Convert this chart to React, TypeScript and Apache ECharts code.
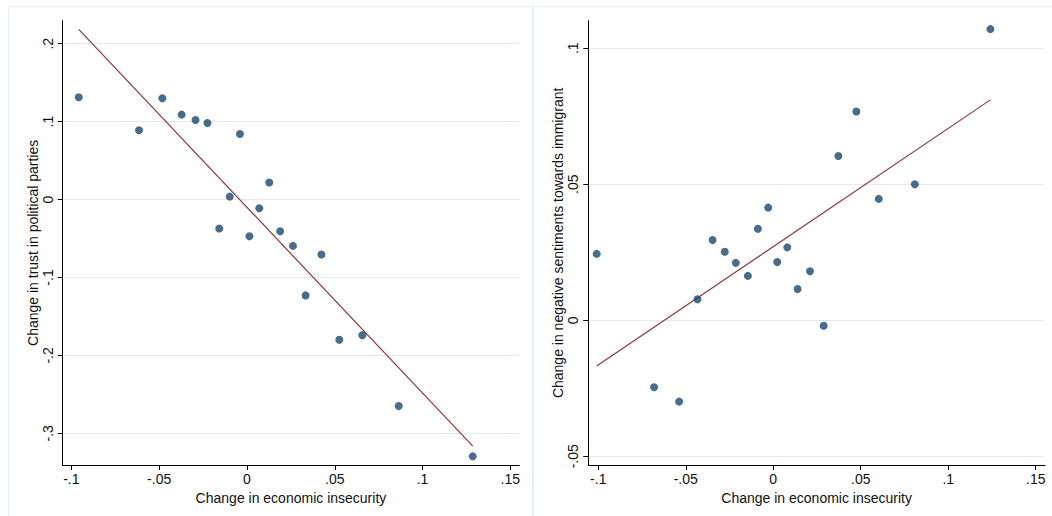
import React, { useEffect, useRef } from "react";
import * as echarts from "echarts";

const xTicks = [-0.1, -0.05, 0, 0.05, 0.1, 0.15];
const xTickLabels = ["-.1", "-.05", "0", ".05", ".1", ".15"];
const yTicksLeft = [-0.3, -0.2, -0.1, 0, 0.1, 0.2];
const yTickLabelsLeft = ["-.3", "-.2", "-.1", "0", ".1", ".2"];
const yTicksRight = [-0.05, 0, 0.05, 0.1];
const yTickLabelsRight = ["-.05", "0", ".05", ".1"];

const xName = "Change in economic insecurity";
const yNameLeft = "Change in trust in political parties";
const yNameRight = "Change in negative sentiments towards immigrant";

const trustX = [-0.0958, -0.0615, -0.0482, -0.0372, -0.0293, -0.0225, -0.004, 0.0127, -0.0098, 0.007, -0.0158, 0.0014, 0.0189, 0.0262, 0.0424, 0.0334, 0.0526, 0.0657, 0.0864, 0.1286];
const trustY = [0.1312, 0.0889, 0.13, 0.109, 0.102, 0.0982, 0.0841, 0.0218, 0.0038, -0.0111, -0.0372, -0.047, -0.0406, -0.0594, -0.0705, -0.123, -0.18, -0.174, -0.265, -0.3295];
const trustFitX = [-0.0958, 0.1286];
const trustFitY = [0.2183, -0.3163];

const immigX = [-0.1009, -0.0681, -0.0538, -0.0433, -0.0347, -0.0277, -0.0214, -0.0145, -0.0088, -0.0029, 0.0023, 0.008, 0.0139, 0.021, 0.0288, 0.0372, 0.0475, 0.0603, 0.0809, 0.1241];
const immigY = [0.0244, -0.0246, -0.0299, 0.0077, 0.0295, 0.0252, 0.0211, 0.0163, 0.0336, 0.0414, 0.0214, 0.0268, 0.0115, 0.018, -0.002, 0.0604, 0.0767, 0.0446, 0.05, 0.107];
const immigFitX = [-0.1009, 0.1241];
const immigFitY = [-0.0168, 0.081];

const FONT = "'Liberation Sans', Arial, Helvetica, sans-serif";
const TEXT = "#111111";
const GRIDLINE = "#e2ecee";
const DOT = "#1a476f";
const FIT = "#90353b";

function labelFor(ticks: number[], labels: string[]) {
  return (v: number) => {
    let best = 0;
    for (let i = 1; i < ticks.length; i++) {
      if (Math.abs(ticks[i] - v) < Math.abs(ticks[best] - v)) best = i;
    }
    return labels[best];
  };
}

function xAxisOpt(gridIndex: number, min: number, max: number) {
  return {
    type: "value",
    gridIndex,
    min,
    max,
    name: xName,
    nameLocation: "middle",
    nameGap: 23,
    nameTextStyle: { fontFamily: FONT, fontSize: 14, color: TEXT },
    axisLine: { show: true, onZero: false, lineStyle: { color: "#000", width: 1 } },
    axisTick: { show: true, length: 5, customValues: xTicks, lineStyle: { color: "#000" } },
    axisLabel: {
      customValues: xTicks,
      formatter: labelFor(xTicks, xTickLabels),
      fontFamily: FONT,
      fontSize: 14,
      color: TEXT,
      margin: 7,
      showMinLabel: true,
      showMaxLabel: true,
    },
    splitLine: { show: false },
  };
}

function yAxisOpt(gridIndex: number, min: number, max: number, ticks: number[], labels: string[], name: string) {
  return {
    type: "value",
    gridIndex,
    min,
    max,
    name,
    nameLocation: "middle",
    nameGap: 23,
    nameTextStyle: { fontFamily: FONT, fontSize: 14, color: TEXT },
    axisLine: { show: true, onZero: false, lineStyle: { color: "#000", width: 1 } },
    axisTick: { show: true, length: 5, customValues: ticks, lineStyle: { color: "#000" } },
    axisLabel: {
      customValues: ticks,
      formatter: labelFor(ticks, labels),
      rotate: 90,
      fontFamily: FONT,
      fontSize: 14,
      color: TEXT,
      margin: 8,
      showMinLabel: true,
      showMaxLabel: true,
    },
    splitLine: { show: true, lineStyle: { color: GRIDLINE, width: 1 } },
  };
}

export default function App() {
  const ref = useRef<HTMLDivElement>(null);
  useEffect(() => {
    document.body.style.margin = "0";
    if (!ref.current) return;
    const chart = echarts.init(ref.current, undefined, { renderer: "svg" });
    chart.setOption({
      animation: false,
      backgroundColor: "#ffffff",
      graphic: [
        { type: "rect", shape: { x: 8.5, y: 6.5, width: 524, height: 520 }, style: { fill: "none", stroke: "#e8eff2", lineWidth: 1 }, silent: true, z: -10 },
        { type: "rect", shape: { x: 533.5, y: 6.5, width: 530, height: 520 }, style: { fill: "none", stroke: "#e8eff2", lineWidth: 1 }, silent: true, z: -10 },
      ],
      grid: [
        { left: 62.6, top: 20.7, width: 456.7, height: 444.3, containLabel: false },
        { left: 588.3, top: 20.7, width: 456.7, height: 444.3, containLabel: false },
      ],
      xAxis: [xAxisOpt(0, -0.105, 0.1551), xAxisOpt(1, -0.1057, 0.1553)],
      yAxis: [
        yAxisOpt(0, -0.3406, 0.2295, yTicksLeft, yTickLabelsLeft, yNameLeft),
        yAxisOpt(1, -0.0532, 0.1101, yTicksRight, yTickLabelsRight, yNameRight),
      ],
      series: [
        {
          type: "scatter",
          xAxisIndex: 0,
          yAxisIndex: 0,
          symbolSize: 8,
          itemStyle: { color: DOT },
          data: trustX.map((x, i) => [x, trustY[i]]),
          z: 3,
        },
        {
          type: "line",
          xAxisIndex: 0,
          yAxisIndex: 0,
          symbol: "none",
          lineStyle: { color: FIT, width: 1.2 },
          data: trustFitX.map((x, i) => [x, trustFitY[i]]),
          z: 2,
        },
        {
          type: "scatter",
          xAxisIndex: 1,
          yAxisIndex: 1,
          symbolSize: 8,
          itemStyle: { color: DOT },
          data: immigX.map((x, i) => [x, immigY[i]]),
          z: 3,
        },
        {
          type: "line",
          xAxisIndex: 1,
          yAxisIndex: 1,
          symbol: "none",
          lineStyle: { color: FIT, width: 1.2 },
          data: immigFitX.map((x, i) => [x, immigFitY[i]]),
          z: 2,
        },
      ],
    });
    return () => chart.dispose();
  }, []);
  return <div ref={ref} style={{ width: 1052, height: 516 }} />;
}
